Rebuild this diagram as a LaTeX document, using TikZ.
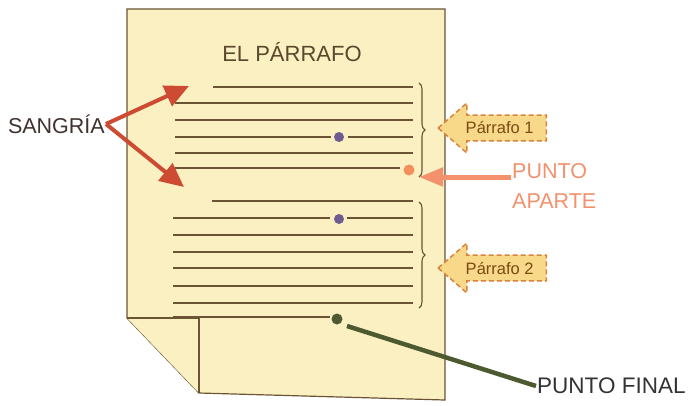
\documentclass[tikz,border=0pt]{standalone}
\usepackage{fontspec}
\setmainfont{Liberation Sans}
\usetikzlibrary{arrows.meta}
\usetikzlibrary{shapes.arrows}
\usetikzlibrary{decorations.pathreplacing}
\definecolor{paper}{HTML}{FAF0C2}
\definecolor{ink}{HTML}{6B5434}
\definecolor{sangred}{HTML}{CD4A33}
\definecolor{salmon}{HTML}{F2916C}
\definecolor{violet}{HTML}{6F5B92}
\definecolor{olive}{HTML}{4D5A30}
\definecolor{parrfill}{HTML}{F8D889}
\definecolor{parrdraw}{HTML}{D9843A}
\definecolor{parrtext}{HTML}{7A4B12}
\tikzset{
	page/.style={
		draw=ink,
		fill=paper,
		line width=1.2pt,
	},
	txtline/.style={
		draw=ink,
		line width=1.4pt,
	},
	dot/.style={
		circle,
		inner sep=0pt,
		minimum size=10pt,
	},
	label/.style={
		font=\fontsize{21.5}{30}\selectfont,
		align=left,
		inner sep=1pt,
	},
	sang/.style={
		draw=sangred,
		line width=4pt,
		-{Triangle[length=24pt,width=22pt]}
	},
	apart/.style={
		draw=salmon,
		line width=5pt,
		-{Triangle[length=24pt,width=18pt]}
	},
	final/.style={
		draw=olive,
		line width=4.5pt,
	},
	brc/.style={
		draw=ink,
		line width=1.1pt,
		decorate,
		decoration={brace,amplitude=6pt},
	},
	parr/.style={
		single arrow,
		shape border rotate=180,
		single arrow head extend=12pt,
		single arrow tip angle=82,
		draw=parrdraw,
		line width=1.5pt,
		dash pattern=on 5pt off 3pt,
		fill=parrfill,
		text=parrtext,
		inner xsep=12pt,
		inner ysep=6pt,
		font=\fontsize{16.5}{18}\selectfont,
	},
}

\begin{document}
\begin{tikzpicture}[x=1pt,y=-1pt]
		\useasboundingbox (0,0) rectangle (698,405);

		% the sheet with its folded corner
		\draw[page] (127,9) -- (445,9) -- (445,400) -- (199,393) -- (127,318) -- cycle;
		\draw[page] (127,318) -- (199,318) -- (199,393);

		\node[font=\fontsize{22}{26}\selectfont, text=ink!85!black] (title) at (292,52) {EL PÁRRAFO};

		% first paragraph
		\draw[txtline] (213,87) -- (413,87);
		\draw[txtline] (175,103) -- (413,103);
		\draw[txtline] (175,120) -- (413,120);
		\draw[txtline] (175,137) -- (331,137);
		\draw[txtline] (348,137) -- (413,137);
		\draw[txtline] (175,153) -- (413,153);
		\draw[txtline] (175,168) -- (400,168);

		\node[dot, fill=violet] 		(seg1) at (339,137) {};
		\node[dot, fill=salmon!85!orange, minimum size=11pt] 	(apart) at (409,170) {};

		% second paragraph
		\draw[txtline] (212,201) -- (413,201);
		\draw[txtline] (173,218) -- (330,218);
		\draw[txtline] (347,218) -- (413,218);
		\draw[txtline] (173,235) -- (413,235);
		\draw[txtline] (173,252) -- (413,252);
		\draw[txtline] (173,268) -- (413,268);
		\draw[txtline] (173,286) -- (413,286);
		\draw[txtline] (173,303) -- (413,303);
		\draw[txtline] (173,317) -- (330,317);

		\node[dot, fill=violet] 		(seg2) at (339,219) {};
		\node[dot, fill=olive, minimum size=11pt] 	(fin) at (337,319) {};

		\draw[brc] (419,83) -- (419,177);
		\draw[brc] (419,202) -- (419,308);

%%%

		\node[parr, anchor=tip] 		(p1) at (437,128) {Párrafo 1};
		\node[parr, anchor=tip] 		(p2) at (437,268) {Párrafo 2};

		\node[label, text=black!70!violet!60!ink, anchor=east] 	(sangria) at (106,124) {SANGRÍA};
		\coordinate (ind1) at (189,86);
		\coordinate (ind2) at (184,187);
		\draw[sang] 			(sangria.east) -- (ind1);
		\draw[sang] 			(sangria.east) -- (ind2);

		\node[label, text=salmon, anchor=west] 	(ptaparte) at (511,186) {PUNTO\\APARTE};
		\coordinate (aparttip) at (419,177);
		\draw[apart] 			(511,177) -- (aparttip);

		\node[label, font=\fontsize{22.5}{30}\selectfont, text=black!80, anchor=west] 	(ptfinal) at (536,386) {PUNTO FINAL};
		\draw[final] 			(fin) ++(10,7) -- (ptfinal.west);
	\end{tikzpicture}
\end{document}
